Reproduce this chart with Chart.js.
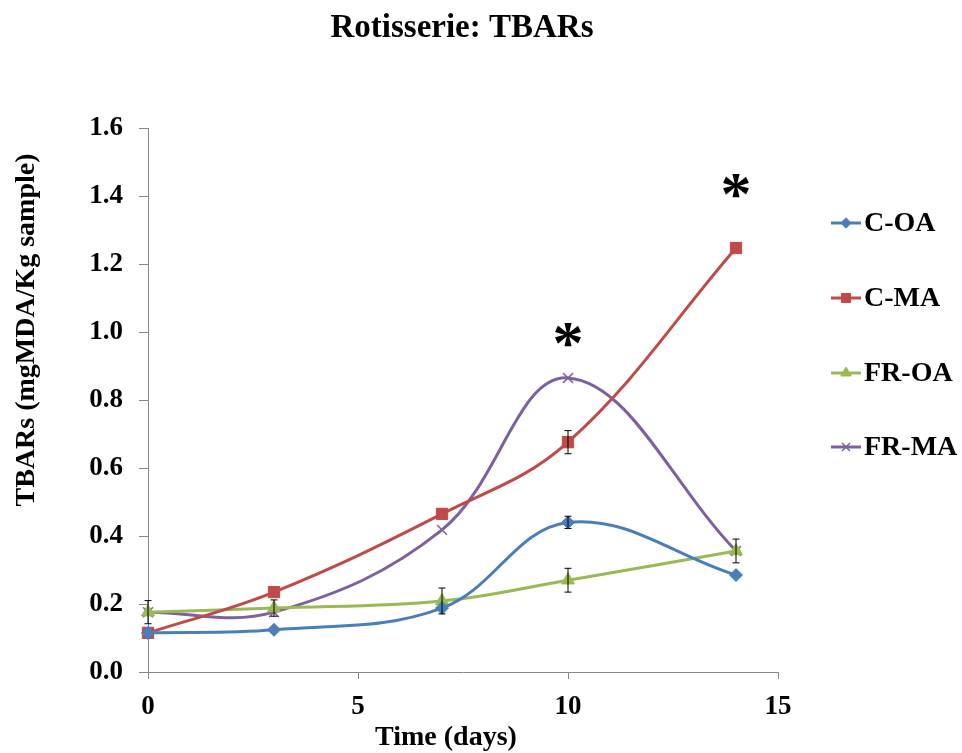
<!DOCTYPE html>
<html>
<head>
<meta charset="utf-8">
<script src="https://cdn.jsdelivr.net/npm/chart.js@4.4.1/dist/chart.umd.min.js"></script>
<style>
  html, body { margin: 0; padding: 0; background: #fff; }
  #wrap { width: 962px; height: 753px; }
</style>
</head>
<body>
<div id="wrap"><canvas id="tbarsChart" width="962" height="753"></canvas></div>
<script>
// Chart values
const days = [0, 3, 7, 10, 14];
const xTicks = [0, 5, 10, 15];
const yTicks = [0, 0.2, 0.4, 0.6, 0.8, 1.0, 1.2, 1.4, 1.6];

const seriesNames = ['C-OA', 'C-MA', 'FR-OA', 'FR-MA'];
const cOA = [0.115, 0.124, 0.188, 0.44, 0.285];
const cMA = [0.115, 0.235, 0.465, 0.676, 1.247];
const frOA = [0.176, 0.188, 0.209, 0.27, 0.356];
const frMA = [0.176, 0.176, 0.418, 0.865, 0.356];

// error bar half-widths (null = none visible)
const cOAErr = [null, null, null, 0.018, null];
const cMAErr = [null, null, null, 0.034, null];
const frOAErr = [0.034, 0.024, 0.038, 0.035, 0.035];
const frMAErr = [null, null, null, null, null];

// significance stars
const starDays = [10, 14];
const starValues = [0.99, 1.43];

const colors = ['#4a7ebb', '#be4b48', '#98b954', '#7d60a0'];
const markers = ['rectRot', 'rect', 'triangle', 'crossRot'];
const markerSizes = [6.5, 8, 7.5, 7];
const serif = '"Liberation Serif", "Times New Roman", serif';

function toPoints(values) {
    return days.map((d, i) => ({ x: d, y: values[i] }));
}

const allValues = [cOA, cMA, frOA, frMA];
const allErrors = [cOAErr, cMAErr, frOAErr, frMAErr];

const datasets = allValues.map((vals, i) => ({
    label: seriesNames[i],
    data: toPoints(vals),
    borderColor: colors[i],
    backgroundColor: colors[i],
    borderWidth: 3,
    tension: 0.38,
    pointStyle: markers[i],
    pointRadius: markerSizes[i],
    pointHoverRadius: markerSizes[i],
    pointBorderWidth: i === 3 ? 1.5 : 1,
    pointBorderColor: colors[i],
    pointBackgroundColor: colors[i],
    clip: false,
    errors: allErrors[i]
}));

// error bars
const errorBars = {
    id: 'errorBars',
    afterDatasetsDraw(chart) {
        const ctx = chart.ctx;
        const xs = chart.scales.x, ys = chart.scales.y;
        ctx.save();
        ctx.strokeStyle = '#000';
        ctx.lineWidth = 1;
        chart.data.datasets.forEach(ds => {
            ds.errors.forEach((e, i) => {
                if (e == null) return;
                const px = xs.getPixelForValue(ds.data[i].x);
                const top = ys.getPixelForValue(ds.data[i].y + e);
                const bot = ys.getPixelForValue(ds.data[i].y - e);
                ctx.beginPath();
                ctx.moveTo(px, top); ctx.lineTo(px, bot);
                ctx.moveTo(px - 3.5, top); ctx.lineTo(px + 3.5, top);
                ctx.moveTo(px - 3.5, bot); ctx.lineTo(px + 3.5, bot);
                ctx.stroke();
            });
        });
        ctx.restore();
    }
};

// title, axis titles, legend, stars
const decorations = {
    id: 'decorations',
    afterDraw(chart) {
        const ctx = chart.ctx;
        const xs = chart.scales.x, ys = chart.scales.y;
        ctx.save();
        ctx.fillStyle = '#000';
        ctx.textAlign = 'center';
        ctx.textBaseline = 'middle';

        ctx.font = 'bold 33px ' + serif;
        ctx.fillText('Rotisserie: TBARs', 462, 28);

        ctx.font = 'bold 28px ' + serif;
        ctx.fillText('Time (days)', 446, 738);

        ctx.save();
        ctx.translate(27, 330);
        ctx.rotate(-Math.PI / 2);
        ctx.fillText('TBARs (mgMDA/Kg sample)', 0, 0);
        ctx.restore();

        // legend
        const legendY = [223, 298, 373, 447];
        ctx.textAlign = 'left';
        chart.data.datasets.forEach((ds, i) => {
            const y = legendY[i];
            ctx.strokeStyle = ds.borderColor;
            ctx.lineWidth = 3;
            ctx.beginPath();
            ctx.moveTo(831, y); ctx.lineTo(861, y);
            ctx.stroke();
            ctx.fillStyle = ds.backgroundColor;
            ctx.strokeStyle = ds.borderColor;
            ctx.lineWidth = ds.pointBorderWidth;
            Chart.helpers.drawPoint(ctx, {
                pointStyle: ds.pointStyle,
                radius: ds.pointRadius * 0.8,
                rotation: 0,
                borderWidth: ds.pointBorderWidth
            }, 846, y);
            ctx.fillStyle = '#000';
            ctx.font = 'bold 28px ' + serif;
            ctx.fillText(ds.label, 864, y + 1);
        });

        // stars
        ctx.textAlign = 'center';
        ctx.textBaseline = 'alphabetic';
        ctx.font = 'bold 62px ' + serif;
        const m = ctx.measureText('*');
        const off = (m.actualBoundingBoxAscent - m.actualBoundingBoxDescent) / 2;
        starDays.forEach((d, i) => {
            const px = xs.getPixelForValue(d);
            const py = ys.getPixelForValue(starValues[i]);
            ctx.fillText('*', px, py + off);
        });
        ctx.restore();
    }
};

const axisGray = '#868686';

new Chart(document.getElementById('tbarsChart'), {
    type: 'line',
    data: { datasets: datasets },
    options: {
        responsive: false,
        animation: false,
        events: [],
        layout: { padding: { top: 128, right: 184, left: 0, bottom: 0 } },
        plugins: {
            legend: { display: false },
            title: { display: false },
            tooltip: { enabled: false }
        },
        scales: {
            x: {
                type: 'linear',
                min: 0,
                max: 15,
                afterBuildTicks(scale) { scale.ticks = xTicks.map(v => ({ value: v })); },
                afterFit(scale) { scale.height = 81; },
                grid: { drawOnChartArea: false, drawTicks: true, tickLength: 7, color: axisGray },
                border: { color: axisGray, width: 1 },
                ticks: {
                    padding: 12,
                    color: '#000',
                    font: { family: serif, size: 27, weight: 'bold' },
                    maxRotation: 0
                }
            },
            y: {
                type: 'linear',
                min: 0,
                max: 1.6,
                afterBuildTicks(scale) { scale.ticks = yTicks.map(v => ({ value: v })); },
                afterFit(scale) { scale.width = 148; },
                grid: { drawOnChartArea: false, drawTicks: true, tickLength: 9, color: axisGray },
                border: { color: axisGray, width: 1 },
                ticks: {
                    padding: 16,
                    color: '#000',
                    font: { family: serif, size: 27, weight: 'bold' },
                    callback: v => Number(v).toFixed(1)
                }
            }
        }
    },
    plugins: [errorBars, decorations]
});
</script>
</body>
</html>
